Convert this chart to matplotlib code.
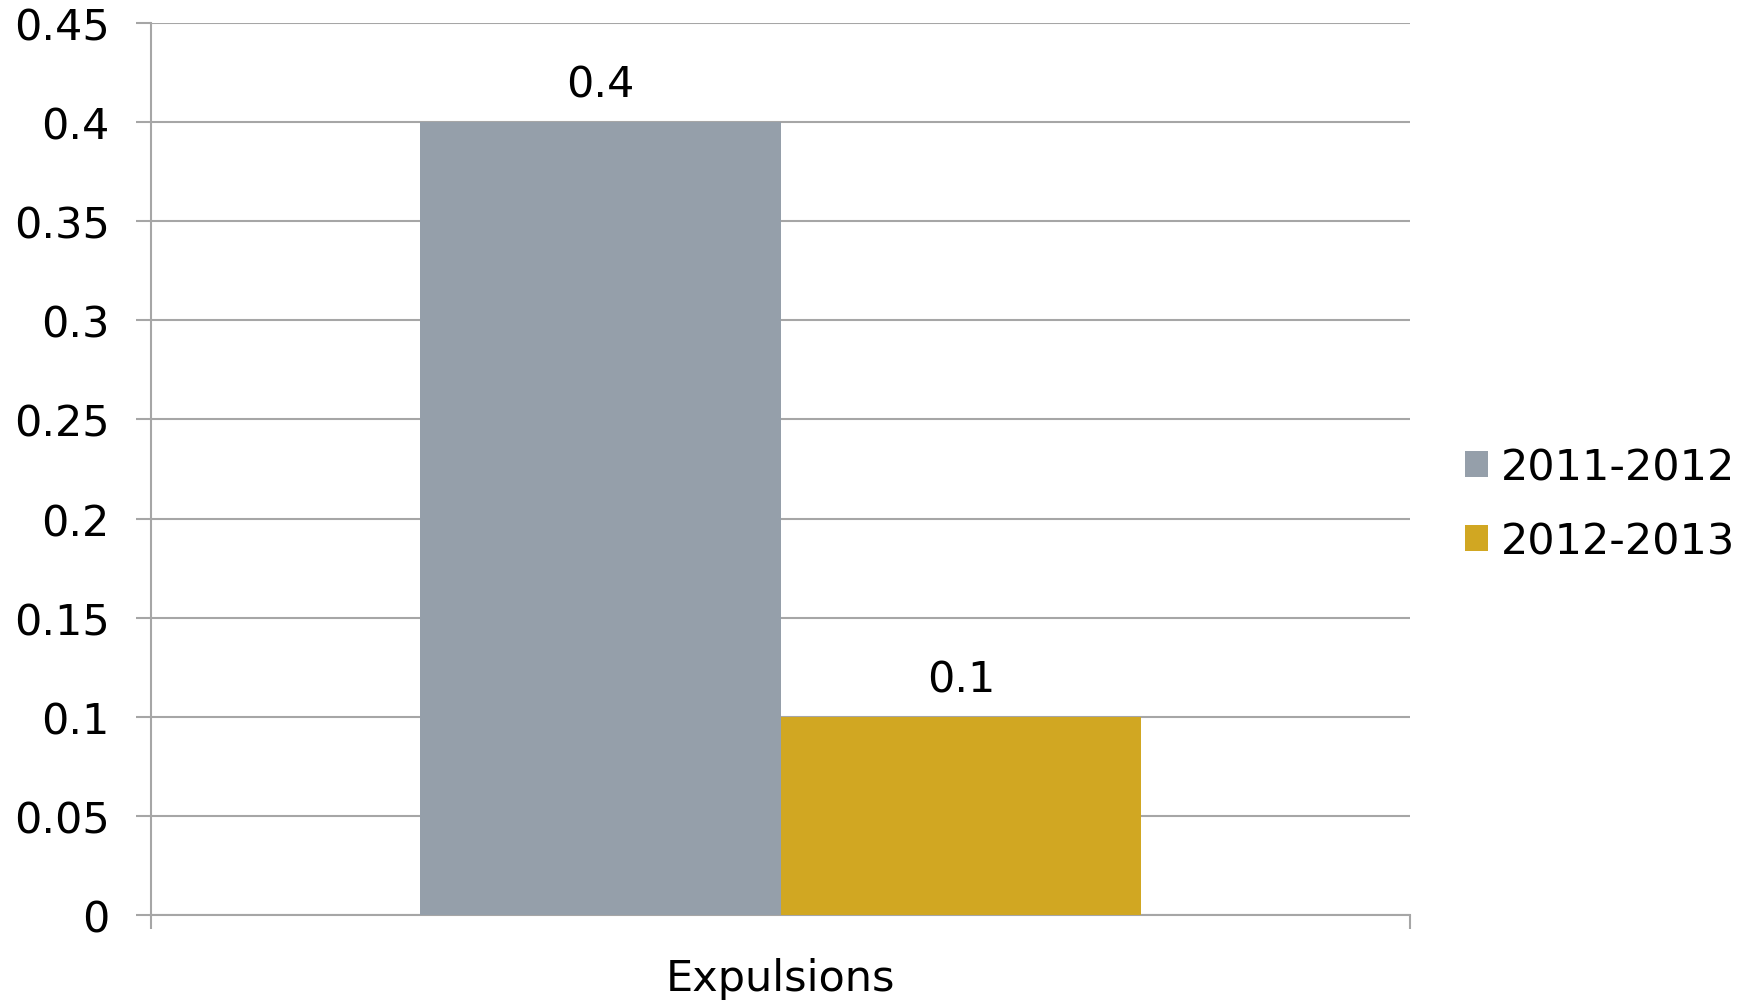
import matplotlib.pyplot as plt
import numpy as np

# data
categories = ["Expulsions"]
series_names = ["2011-2012", "2012-2013"]
values_2011 = [0.4]
values_2012 = [0.1]
y_ticks = [0, 0.05, 0.1, 0.15, 0.2, 0.25, 0.3, 0.35, 0.4, 0.45]
y_tick_labels = ["0", "0.05", "0.1", "0.15", "0.2", "0.25", "0.3", "0.35", "0.4", "0.45"]

colors = ["#959FAA", "#D1A722"]
grid_color = "#A6A6A6"
fs = 31

plt.rcParams["font.family"] = ["DejaVu Sans"]

fig = plt.figure(figsize=(17.54, 10.03), dpi=100)
ax = fig.add_axes([0.0861, 0.0867, 0.8039 - 0.0861, 0.9761 - 0.0867])

x = np.arange(len(categories))
width = 0.2867
bars1 = ax.bar(x - width / 2, values_2011, width, color=colors[0], label=series_names[0], zorder=3)
bars2 = ax.bar(x + width / 2, values_2012, width, color=colors[1], label=series_names[1], zorder=3)

# value labels above the bars
for bars, vals in [(bars1, values_2011), (bars2, values_2012)]:
    for b, v in zip(bars, vals):
        ax.annotate(f"{v:g}", (b.get_x() + b.get_width() / 2, v), xytext=(0, 12),
                    textcoords="offset points", ha="center", va="bottom", fontsize=fs)

ax.set_xlim(-0.5, len(categories) - 0.5)
ax.set_ylim(0, 0.45)
ax.set_yticks(y_ticks)
ax.set_yticklabels(y_tick_labels, fontsize=fs)
ax.yaxis.grid(True, color=grid_color, linewidth=1.5, zorder=0)
ax.tick_params(axis="y", length=10.8, width=1.5, color=grid_color, pad=19)

ax.set_xticks(x)
ax.set_xticklabels(categories, fontsize=fs)
ax.tick_params(axis="x", which="major", length=0, pad=30)
ax.set_xticks(np.arange(len(categories) + 1) - 0.5, minor=True)
ax.tick_params(axis="x", which="minor", length=10, width=1.5, color=grid_color)

for side in ["top", "right"]:
    ax.spines[side].set_visible(False)
for side in ["left", "bottom"]:
    ax.spines[side].set_color(grid_color)
    ax.spines[side].set_linewidth(1.5)

fig.legend(loc="center left", bbox_to_anchor=(0.835, 0.496), frameon=False, fontsize=fs,
           handlelength=0.55, handleheight=0.55, handletextpad=0.3, labelspacing=0.75,
           borderpad=0, borderaxespad=0)

fig.savefig("out.png", dpi=100)
